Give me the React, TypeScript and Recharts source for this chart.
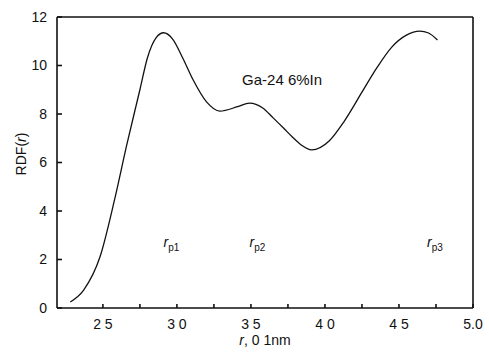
import { LineChart, Line, XAxis, YAxis, ReferenceLine, ReferenceDot } from 'recharts'

// radial distance r (0.1 nm) and RDF(r)
const rValues = [
  2.28, 2.37, 2.48, 2.58, 2.66, 2.75, 2.8, 2.86, 2.91, 2.97, 3.04, 3.11, 3.2, 3.29, 3.41,
  3.49, 3.58, 3.65, 3.72, 3.78, 3.84, 3.91, 4.03, 4.13, 4.25, 4.35, 4.45, 4.55, 4.64, 4.7, 4.76,
]
const rdfValues = [
  0.25, 0.74, 2.1, 4.5, 6.7, 9.0, 10.3, 11.15, 11.35, 11.1, 10.3, 9.4, 8.5, 8.12, 8.3,
  8.45, 8.25, 7.84, 7.42, 7.05, 6.72, 6.52, 6.9, 7.7, 8.9, 9.9, 10.75, 11.25, 11.42, 11.34, 11.05,
]

const yTicks = [0, 2, 4, 6, 8, 10, 12]
const majorXTicks = [2.5, 3.0, 3.5, 4.0, 4.5, 5.0]
const majorXLabels = ['2 5', '3 0', '3 5', '4 0', '4 5', '5.0']
const minorXTicks = [2.75, 3.25, 3.75, 4.25, 4.75]

const peakR = [2.91, 3.49, 4.69]
const peakNames = ['p1', 'p2', 'p3']

const data = rValues.map((r, i) => ({ r, rdf: rdfValues[i] }))
const xTicks = [...majorXTicks, ...minorXTicks].sort((a, b) => a - b)

const font = '"Liberation Sans", Arial, sans-serif'

const fmtX = (v: number) => {
  const i = majorXTicks.findIndex(t => Math.abs(t - v) < 1e-6)
  return i >= 0 ? majorXLabels[i] : ''
}

function PeakLabel({ viewBox, name }: any) {
  const { x, y } = viewBox
  return (
    <text x={x} y={y} fontFamily={font} fontSize={14} fill="#111">
      <tspan fontStyle="italic">r</tspan>
      <tspan fontSize={10} dy={4}>{name}</tspan>
    </text>
  )
}

export default function App() {
  return (
    <div style={{ position: 'absolute', left: 0, top: 0, background: '#fff' }}>
      <LineChart width={489} height={352} data={data} margin={{ top: 17, right: 16, bottom: 0, left: 0 }}>
        <XAxis
          dataKey="r"
          type="number"
          domain={[2.19, 5.0]}
          ticks={xTicks}
          tickFormatter={fmtX}
          interval={0}
          height={44}
          stroke="#111"
          strokeWidth={1.6}
          tickSize={-4}
          tickMargin={15}
          tick={{ fill: '#111', fontSize: 14, fontFamily: font }}
          label={({ viewBox }: any) => (
            <text
              x={viewBox.x + viewBox.width / 2}
              y={viewBox.y + 37}
              textAnchor="middle"
              fontFamily={font}
              fontSize={14}
              fill="#111"
            >
              <tspan fontStyle="italic">r</tspan>, 0 1nm
            </text>
          )}
        />
        <YAxis
          type="number"
          domain={[0, 12]}
          ticks={yTicks}
          width={57}
          stroke="#111"
          strokeWidth={1.6}
          tickSize={-5}
          tickMargin={15}
          tick={{ fill: '#111', fontSize: 14, fontFamily: font }}
          label={({ viewBox }: any) => (
            <text
              x={26}
              y={viewBox.y + 137}
              textAnchor="middle"
              transform={`rotate(-90 26 ${viewBox.y + 137})`}
              fontFamily={font}
              fontSize={14}
              fill="#111"
            >
              RDF(<tspan fontStyle="italic">r</tspan>)
            </text>
          )}
        />
        {/* closing frame on top and right */}
        <ReferenceLine y={12} stroke="#111" strokeWidth={1.6} />
        <ReferenceLine x={5.0} stroke="#111" strokeWidth={1.6} />
        <Line
          type="monotone"
          dataKey="rdf"
          stroke="#111"
          strokeWidth={1.3}
          dot={false}
          isAnimationActive={false}
        />
        {peakR.map((r, i) => (
          <ReferenceDot
            key={peakNames[i]}
            x={r}
            y={2.5}
            r={0}
            stroke="none"
            label={(props: any) => <PeakLabel {...props} name={peakNames[i]} />}
          />
        ))}
        <ReferenceDot
          x={3.44}
          y={9.2}
          r={0}
          stroke="none"
          label={({ viewBox }: any) => (
            <text x={viewBox.x} y={viewBox.y} fontFamily={font} fontSize={15} fill="#111">
              Ga-24 6%In
            </text>
          )}
        />
      </LineChart>
    </div>
  )
}
